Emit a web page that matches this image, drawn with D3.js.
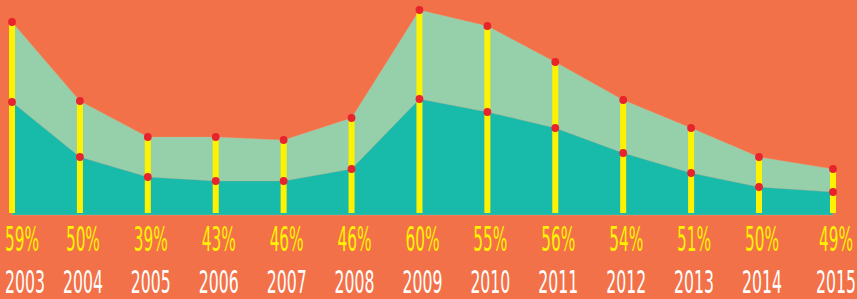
<!DOCTYPE html>
<html>
<head>
<meta charset="utf-8">
<script src="https://d3js.org/d3.v7.min.js"></script>
<style>
    html, body { margin: 0; padding: 0; background: #F37148; }
    svg { display: block; }
    .pct { fill: #FFF200; }
    .year { fill: #ffffff; }
</style>
</head>
<body>
<script>
    // values (same units for both series)
    var years = [2003, 2004, 2005, 2006, 2007, 2008, 2009, 2010, 2011, 2012, 2013, 2014, 2015];
    var totalValues = [193, 114, 78, 78, 75, 97, 205, 189, 153, 115, 87, 58, 46];
    var lowerValues = [113, 58, 38, 34, 34, 46, 116, 103, 87, 62, 42, 28, 23];
    var pctLabels = ["59%", "50%", "39%", "43%", "46%", "46%", "60%", "55%", "56%", "54%", "51%", "50%", "49%"];

    var width = 857, height = 299, baseY = 215;

    var svg = d3.select("body").append("svg")
        .attr("width", width)
        .attr("height", height);

    svg.append("rect")
        .attr("width", width).attr("height", height)
        .attr("fill", "#F37148");

    var x = d3.scaleLinear()
        .domain([2003, 2014, 2015])
        .range([12, 759, 833]);

    var y = d3.scaleLinear()
        .domain([0, 215])
        .range([baseY, 0]);

    var data = years.map(function (d, i) {
        return { year: d, total: totalValues[i], lower: lowerValues[i], pct: pctLabels[i] };
    });

    var upperArea = d3.area()
        .x(function (d) { return x(d.year) })
        .y0(y(0))
        .y1(function (d) { return y(d.total) });

    var lowerArea = d3.area()
        .x(function (d) { return x(d.year) })
        .y0(y(0))
        .y1(function (d) { return y(d.lower) });

    svg.append("path").datum(data)
        .attr("d", upperArea)
        .attr("fill", "#95D0AA")
        .attr("stroke", "#E9A07F").attr("stroke-width", 0.6).attr("stroke-opacity", 0.6);

    svg.append("path").datum(data)
        .attr("d", lowerArea)
        .attr("fill", "#18BBAA")
        .attr("stroke", "#D9A08A").attr("stroke-width", 0.6).attr("stroke-opacity", 0.5);

    // yellow sticks
    svg.append("g").selectAll("rect")
        .data(data)
        .enter().append("rect")
        .attr("x", function (d) { return x(d.year) - 3 })
        .attr("y", function (d) { return y(d.total) })
        .attr("width", 6)
        .attr("height", function (d) { return y(2) - y(d.total) })
        .attr("fill", "#FFF200");

    // red dots
    var dots = svg.append("g");
    dots.selectAll("circle.top")
        .data(data)
        .enter().append("circle")
        .attr("class", "top")
        .attr("cx", function (d) { return x(d.year) })
        .attr("cy", function (d) { return y(d.total) })
        .attr("r", 3.9)
        .attr("fill", "#E8232B");
    dots.selectAll("circle.low")
        .data(data)
        .enter().append("circle")
        .attr("class", "low")
        .attr("cx", function (d) { return x(d.year) })
        .attr("cy", function (d) { return y(d.lower) })
        .attr("r", 3.9)
        .attr("fill", "#E8232B");

    var font = "'Liberation Sans Narrow', 'DejaVu Sans Condensed', 'Roboto', sans-serif";

    function addLabels(cls, textOf, baseline, size, targetWidth) {
        var g = svg.append("g");
        var labels = g.selectAll("text")
            .data(data)
            .enter().append("text")
            .attr("class", cls)
            .attr("font-family", font)
            .attr("font-size", size)
            .attr("text-anchor", "middle")
            .text(textOf);
        // squeeze to look like the narrow hand-drawn lettering
        var w = labels.node().getComputedTextLength();
        var s = targetWidth / w;
        labels.attr("transform", function (d) {
            var cx = x(d.year) + 3;
            var half = targetWidth / 2;
            if (cx - half < 5) cx = 5 + half;
            return "translate(" + cx + "," + baseline + ") scale(" + s + ",1)";
        });
    }

    addLabels("pct", function (d) { return d.pct }, 251, 34, 34);
    addLabels("year", function (d) { return d.year }, 293, 32, 40);
</script>
</body>
</html>
